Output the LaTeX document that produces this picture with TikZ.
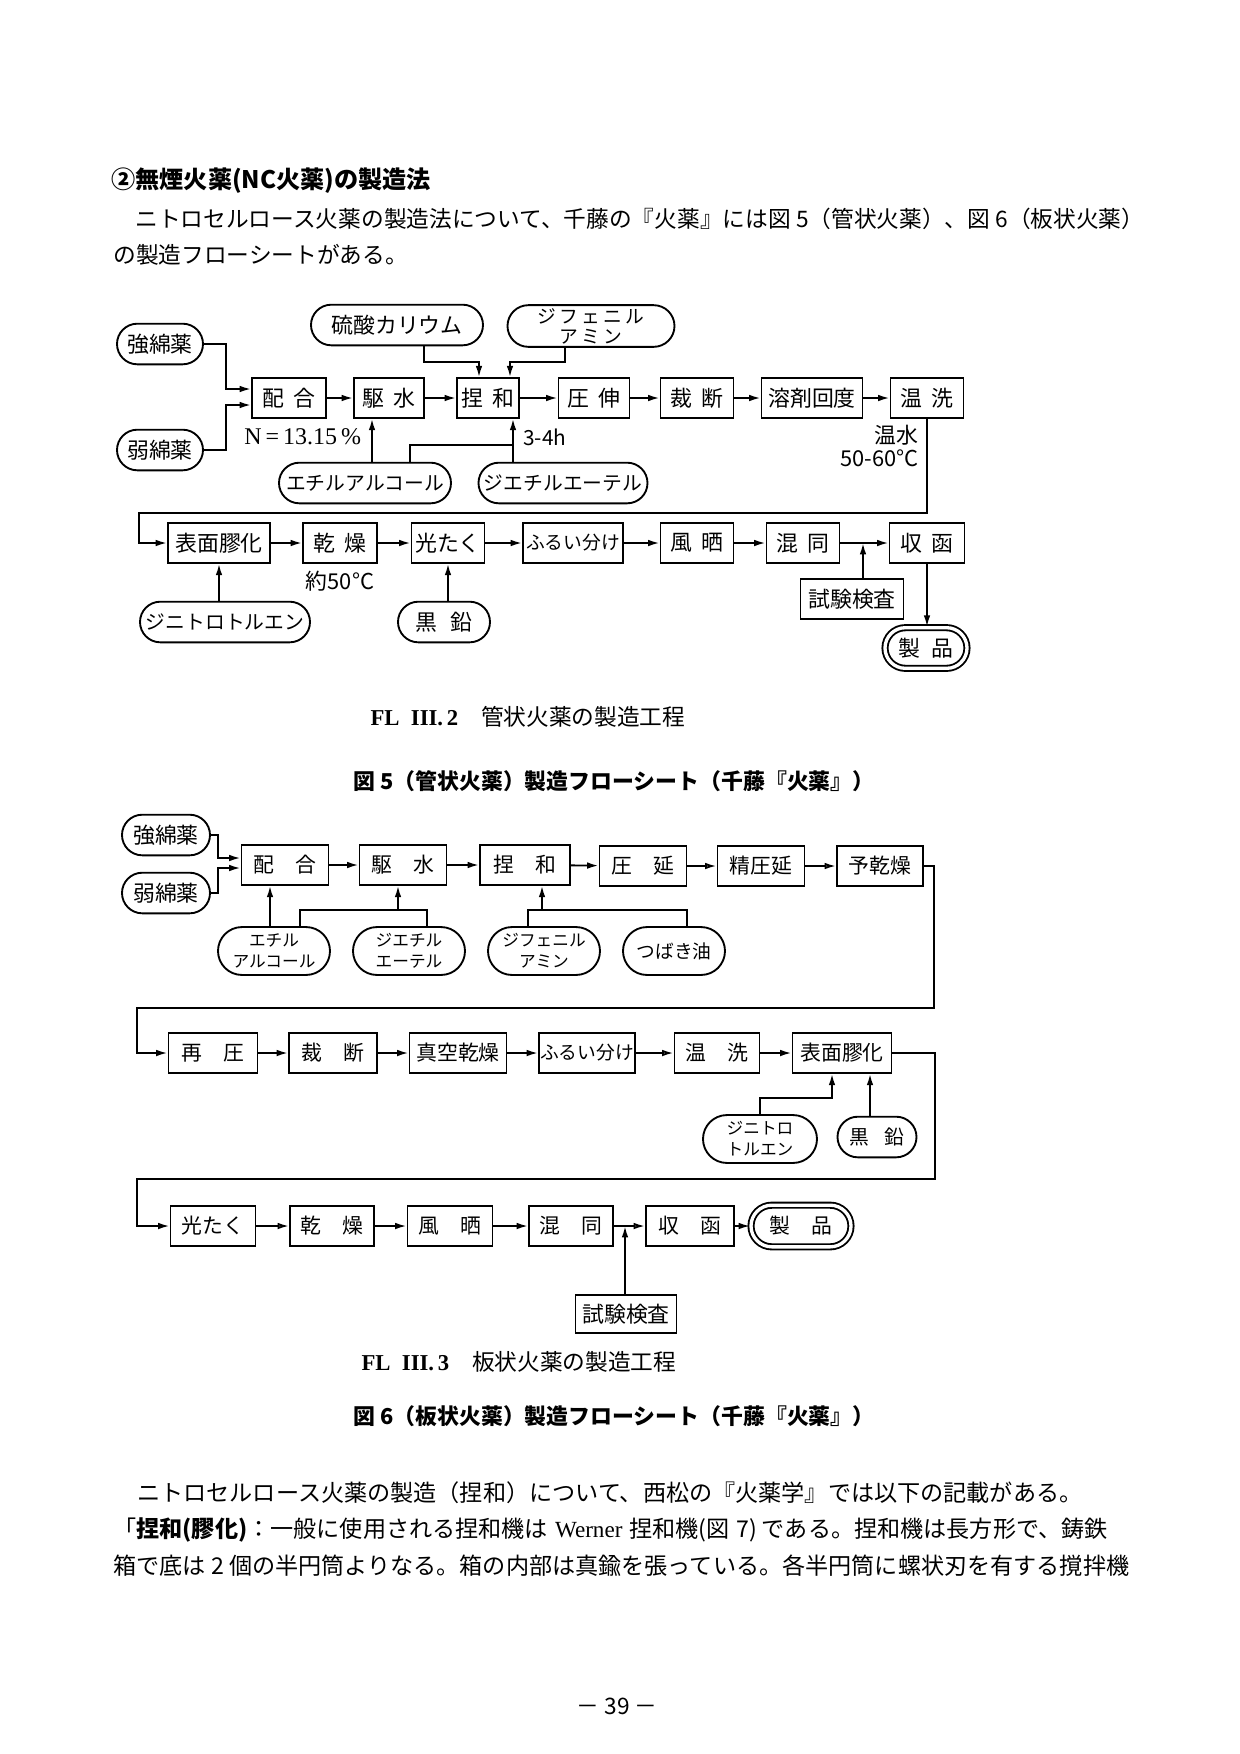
\documentclass[tikz,border=0pt]{standalone}
\usepackage{fontspec}
\setmainfont{Noto Sans CJK JP}
\newfontfamily\lat{Liberation Serif}
\usetikzlibrary{arrows.meta,shapes.misc,calc}
\newcommand\fsz[2]{\fontsize{#1}{#2}\selectfont}
\tikzset{
	box/.style={draw, line width=.9pt, inner sep=0pt, minimum width={#1*0.48pt}, minimum height=19pt, font=\fsz{10.5}{12}},
	term/.style={draw, rounded rectangle, line width=.9pt, inner sep=0pt, minimum width={#1*0.48pt}, minimum height=19.5pt, font=\fsz{10.5}{12}},
	flow/.style={line width=.9pt, -{Latex[length=5.5pt,width=3.2pt]}},
	flowo/.style={line width=.9pt, -{Latex[open,length=5.5pt,width=3.2pt]}},
	wire/.style={line width=.9pt},
}
\begin{document}
\begin{tikzpicture}[x=0.48pt,y=-0.48pt,font=\fsz{10.9}{13}]
		\fill[white] (0,0) rectangle (1240,1754);
		\useasboundingbox (0,0) rectangle (1240,1754);
		\node[anchor=west, font=\bfseries\fsz{11.6}{13}] (ttl) at (104,181) {②無煙火薬(NC火薬)の製造法};
		\node[anchor=west] (par1) at (128,219) {ニトロセルロース火薬の製造法について、千藤の『火薬』には図 5（管状火薬）、図 6（板状火薬）};
		\node[anchor=west] (par2) at (106,255) {の製造フローシートがある。};
		% FL III.2
		\node[term=86] (kyo1) at (160,344) {強綿薬};
		\node[term=86] (jak1) at (160,450) {弱綿薬};
		\node[box=74] (hai1) at (289,398) {配\hspace{.4em}合};
		\node[box=70] (kus1) at (389,398) {駆\hspace{.4em}水};
		\node[box=62] (net1) at (488,398) {捏\hspace{.4em}和};
		\node[box=71] (ats1) at (594,398) {圧\hspace{.4em}伸};
		\node[box=73] (sai1) at (697,398) {裁\hspace{.4em}断};
		\node[box=101] (yoz1) at (812,398) {溶剤回度};
		\node[box=73] (ons1) at (927,398) {温\hspace{.4em}洗};
		\node[term=172] (ryu1) at (397,325) {硫酸カリウム};
		\node[term=167, minimum height=20pt, align=center, font=\fsz{9}{9.5}] (dip1) at (591,326) {ジ\,フ\,ェ\,ニ\,ル\\ア\,ミ\,ン};
		\node[term=172, font=\fsz{9.5}{11}] (eta1) at (365,483) {エチルアルコール};
		\node[term=169, font=\fsz{9.5}{11}] (dee1) at (563,483) {ジエチルエーテル};
		\node[anchor=west, font=\lat\fsz{11.5}{12}] (nlab) at (237,437) {N\,=\,13.15\,\%};
		\node[anchor=west, font=\fsz{10}{12}] (hlab) at (516,437) {3-4h};
		\node[anchor=east, align=right, font=\fsz{10.5}{11}] (wlab) at (926,446) {温水\\50-60°C};
		\coordinate (m1) at (226,389);
		\coordinate (m2) at (226,405);
		\coordinate (r1) at (424,362);
		\coordinate (r2) at (565,362);
		\coordinate (q1) at (479,362);
		\coordinate (q2) at (510,362);
		\coordinate (u1) at (372,445);
		\coordinate (u2) at (410,445);
		\coordinate (u3) at (513,445);
		\draw[flow] (kyo1.east) -| (m1) -- (m1 -| hai1.west);
		\draw[flow] (jak1.east) -| (m2) -- (m2 -| hai1.west);
		\draw[flow] (hai1) -- (kus1);
		\draw[flow] (kus1) -- (net1);
		\draw[flow] (net1) -- (ats1);
		\draw[flow] (ats1) -- (sai1);
		\draw[flow] (sai1) -- (yoz1);
		\draw[flow] (yoz1) -- (ons1);
		\draw[flow] (r1 |- ryu1.south) -- (r1) -- (q1) -- (q1 |- net1.north);
		\draw[flow] (r2 |- dip1.south) -- (r2) -- (q2) -- (q2 |- net1.north);
		\draw[flow] (u1 |- eta1.north) -- (u1 |- kus1.south);
		\draw[wire] (u2 |- eta1.north) -- (u2) -- (u3);
		\draw[flow] (u3 |- dee1.north) -- (u3 |- net1.south);
		\node[box=102] (hyo1) at (219,543) {表面膠化};
		\node[box=74] (kan1) at (340,543) {乾\hspace{.4em}燥};
		\node[box=73] (kou1) at (448,543) {光たく};
		\node[box=100, font=\fsz{9}{11}] (fur1) at (573,543) {ふるい分け};
		\node[box=73] (fus1) at (697,543) {風\hspace{.4em}晒};
		\node[box=73] (kon1) at (803,543) {混\hspace{.4em}同};
		\node[box=75] (shu1) at (927,543) {収\hspace{.4em}函};
		\node[font=\fsz{10.5}{12}] (l50) at (340,581) {約50°C};
		\node[term=170, font=\fsz{9.5}{11}] (dnt1) at (225,622) {ジニトロトルエン};
		\node[term=92] (koku1) at (444,622) {黒\hspace{.6em}鉛};
		\node[box=103] (shi1) at (852,599) {試験検査};
		\node[term=82, double, double distance=1.6pt] (prd1) at (926,648) {製\hspace{.5em}品};
		\coordinate (l1) at (139,513);
		\coordinate (t1) at (863,543);
		\draw[flow] (ons1.south) |- (l1) |- (hyo1.west);
		\draw[flow] (hyo1) -- (kan1);
		\draw[flow] (kan1) -- (kou1);
		\draw[flow] (kou1) -- (fur1);
		\draw[flow] (fur1) -- (fus1);
		\draw[flow] (fus1) -- (kon1);
		\draw[flow] (kon1) -- (shu1);
		\draw[flow] (dnt1.north -| hyo1) -- (hyo1.south);
		\draw[flow] (koku1.north -| kou1) -- (kou1.south);
		\draw[flow] (t1 |- shi1.north) -- (t1);
		\draw[flow] (shu1.south) -- (shu1.south |- prd1.north);
		\node (cap1) at (528,717) {{\lat\bfseries FL\ \ III.\,2}\quad 管状火薬の製造工程};
		\node[font=\bfseries\fsz{10.5}{12}] (fig5) at (614,781) {図 5（管状火薬）製造フローシート（千藤『火薬』）};
		% FL III.3
		\node[term=88] (kyo2) at (166,835) {強綿薬};
		\node[term=88] (jak2) at (166,893) {弱綿薬};
		\node[box=87, font=\fsz{10}{12}] (hai2) at (285,865) {配\quad 合};
		\node[box=87, font=\fsz{10}{12}] (kus2) at (403,865) {駆\quad 水};
		\node[box=90, font=\fsz{10}{12}] (net2) at (525,865) {捏\quad 和};
		\node[box=87, font=\fsz{10}{12}] (ats2) at (643,866) {圧\quad 延};
		\node[box=87, font=\fsz{10}{12}] (fin2) at (761,866) {精圧延};
		\node[box=86, font=\fsz{10}{12}] (yok2) at (880,866) {予乾燥};
		\node[term=112, minimum height=23pt, align=center, font=\fsz{8}{10}] (eta2) at (274,951) {エチル\\アルコール};
		\node[term=112, minimum height=23pt, align=center, font=\fsz{8}{10}] (dee2) at (409,951) {ジエチル\\エーテル};
		\node[term=112, minimum height=23pt, align=center, font=\fsz{8}{10}] (dip2) at (544,951) {ジフェニル\\アミン};
		\node[term=102, minimum height=23pt, font=\fsz{9}{11}] (tsu2) at (674,951) {つばき油};
		\coordinate (m3) at (218,858);
		\coordinate (m4) at (218,868);
		\coordinate (v1) at (270,910);
		\coordinate (v2) at (300,910);
		\coordinate (v3) at (427,910);
		\coordinate (v4) at (398,910);
		\coordinate (v5) at (528,910);
		\coordinate (v6) at (687,910);
		\coordinate (v7) at (542,910);
		\draw[flow] (kyo2.east) -| (m3) -- (m3 -| hai2.west);
		\draw[flow] (jak2.east) -| (m4) -- (m4 -| hai2.west);
		\draw[flow] (hai2) -- (kus2);
		\draw[flow] (kus2) -- (net2);
		\draw[flow] (net2) -- (ats2);
		\draw[flowo] (ats2) -- (fin2);
		\draw[flowo] (fin2) -- (yok2);
		\draw[flow] (v1 |- eta2.north) -- (v1 |- hai2.south);
		\draw[wire] (v2 |- eta2.north) -- (v2) -- (v3) -- (v3 |- dee2.north);
		\draw[flow] (v4) -- (v4 |- kus2.south);
		\draw[wire] (v5 |- dip2.north) -- (v5) -- (v6) -- (v6 |- tsu2.north);
		\draw[flow] (v7) -- (v7 |- net2.south);
		\node[box=89, font=\fsz{10}{12}] (sat2) at (213,1053) {再\quad 圧};
		\node[box=88, font=\fsz{10}{12}] (sdn2) at (333,1053) {裁\quad 断};
		\node[box=97, font=\fsz{10}{12}] (shk2) at (458,1053) {真空乾燥};
		\node[box=96, font=\fsz{9}{11}] (fur2) at (587,1053) {ふるい分け};
		\node[box=85, font=\fsz{10}{12}] (ons2) at (717,1053) {温\quad 洗};
		\node[box=99, font=\fsz{10}{12}] (hyo2) at (842,1053) {表面膠化};
		\node[term=114, minimum height=23pt, align=center, font=\fsz{8}{10}] (dnt2) at (760,1139) {ジニトロ\\トルエン};
		\node[term=79, font=\fsz{9.5}{11}] (koku2) at (877,1137) {黒\hspace{.8em}鉛};
		\coordinate (l2) at (934,1008);
		\coordinate (l3) at (137,1008);
		\coordinate (w1) at (760,1098);
		\coordinate (w2) at (832,1098);
		\coordinate (w3) at (870,1098);
		\draw[flow] (yok2.east) -| (l2) -- (l3) |- (sat2.west);
		\draw[flow] (sat2) -- (sdn2);
		\draw[flow] (sdn2) -- (shk2);
		\draw[flow] (shk2) -- (fur2);
		\draw[flowo] (fur2) -- (ons2);
		\draw[flow] (ons2) -- (hyo2);
		\draw[flow] (w1 |- dnt2.north) -- (w1) -- (w2) -- (w2 |- hyo2.south);
		\draw[flow] (w3 |- koku2.north) -- (w3 |- hyo2.south);
		\node[box=85, font=\fsz{10}{12}] (kou2) at (213,1226) {光たく};
		\node[box=84, font=\fsz{10}{12}] (kan2) at (332,1226) {乾\quad 燥};
		\node[box=85, font=\fsz{10}{12}] (fus2) at (450,1226) {風\quad 晒};
		\node[box=84, font=\fsz{10}{12}] (kon2) at (571,1226) {混\quad 同};
		\node[box=88, font=\fsz{10}{12}] (shu2) at (690,1226) {収\quad 函};
		\node[term=100, minimum height=20pt, double, double distance=1.6pt, font=\fsz{10}{12}] (prd2) at (801,1226) {製\quad 品};
		\node[box=101, minimum height=18.2pt] (shi2) at (626,1314) {試験検査};
		\coordinate (l4) at (935,1179);
		\coordinate (l5) at (137,1179);
		\coordinate (t2) at (625,1226);
		\draw[flow] (hyo2.east) -| (l4) -- (l5) |- (kou2.west);
		\draw[flowo] (kou2) -- (kan2);
		\draw[flow] (kan2) -- (fus2);
		\draw[flow] (fus2) -- (kon2);
		\draw[flowo] (kon2) -- (shu2);
		\draw[flow] (shu2) -- (prd2);
		\draw[flow] (t2 |- shi2.north) -- (t2);
		\node (cap2) at (519,1362) {{\lat\bfseries FL\ \ III.\,3}\quad 板状火薬の製造工程};
		\node[font=\bfseries\fsz{10.5}{12}] (fig6) at (614,1416) {図 6（板状火薬）製造フローシート（千藤『火薬』）};
		% text
		\node[anchor=west, font=\fsz{11.1}{13}] (txt1) at (130,1493) {ニトロセルロース火薬の製造（捏和）について、西松の『火薬学』では以下の記載がある。};
		\node[anchor=west, font=\fsz{11.1}{13}] (txt2) at (106,1530) {「{\bfseries 捏和(膠化)}：一般に使用される捏和機は\hspace{.3em}{\lat Werner}\hspace{.3em}捏和機(図\hspace{.3em}7)\hspace{.2em}である。捏和機は長方形で、鋳鉄};
		\node[anchor=west, font=\fsz{11.1}{13}] (txt3) at (106,1566) {箱で底は 2 個の半円筒よりなる。箱の内部は真鍮を張っている。各半円筒に螺状刃を有する撹拌機};
		\node (pg) at (617,1706) {－ 39 －};
\end{tikzpicture}
\end{document}
